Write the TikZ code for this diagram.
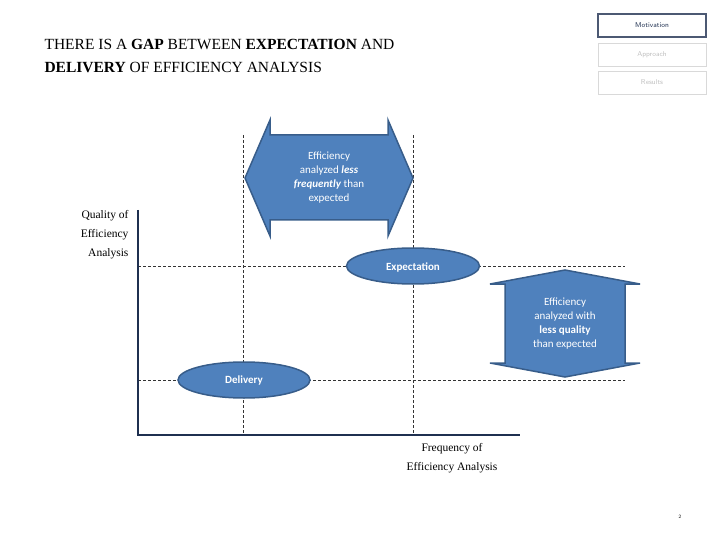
\documentclass[tikz,border=0pt]{standalone}
\usepackage{fontspec}
\setmainfont{Liberation Serif}
\newfontfamily\carl{Carlito}
\usetikzlibrary{shapes.geometric}
\definecolor{bfill}{HTML}{4F81BD}
\definecolor{bline}{HTML}{385D8A}
\definecolor{navy}{HTML}{1F3050}
\begin{document}
\begin{tikzpicture}[x=1pt,y=-1pt,
  guide/.style={densely dashed,line width=0.6pt,black!80},
  shp/.style={fill=bfill,draw=bline,line width=1.5pt},
  wt/.style={text=white,font=\carl\fontsize{11}{14}\selectfont,align=center},
  tab/.style={draw,minimum width=108pt,minimum height=23pt,font=\sffamily\fontsize{7}{8}\selectfont,inner sep=0pt}]
\useasboundingbox (0,0) rectangle (720,540);
% dashed guides
\draw[guide] (243,135) -- (243,435);
\draw[guide] (413,135) -- (413,435);
\draw[guide] (138,266) -- (625,266);
\draw[guide] (138,380) -- (625,380);
% axes
\draw[navy,line width=2.5pt] (138,210) -- (138,435) -- (520,435);
% left-right arrow
\draw[shp] (245,178) -- (270,120) -- (270,135) -- (388,135) -- (388,120) -- (413,178) -- (388,236) -- (388,220) -- (270,220) -- (270,236) -- cycle;
\node[wt] (lr) at (329,178) {Efficiency\\analyzed \textbf{\textit{less}}\\\textbf{\textit{frequently}} than\\expected};
% up-down arrow
\draw[shp] (565,270) -- (640,284) -- (625,284) -- (625,363) -- (640,363) -- (565,377) -- (490,363) -- (505,363) -- (505,284) -- (490,284) -- cycle;
\node[wt] (ud) at (565,324) {Efficiency\\analyzed with\\\textbf{less quality}\\than expected};
% ellipses
\node[shp,ellipse,minimum width=133pt,minimum height=36pt,inner sep=0pt] (exp) at (413,266) {};
\node[wt,font=\carl\bfseries\fontsize{11}{14}\selectfont] (expt) at (413,267) {Expectation};
\node[shp,ellipse,minimum width=132pt,minimum height=36pt,inner sep=0pt] (del) at (244,380) {};
\node[wt,font=\carl\bfseries\fontsize{11}{14}\selectfont] (delt) at (244,381) {Delivery};
% axis labels
\node[align=right,anchor=east,font=\fontsize{11.5}{19}\selectfont] (ql) at (132,235) {Quality of\\Efficiency\\Analysis};
\node[align=center,font=\fontsize{11.5}{19}\selectfont] (fl) at (452,458) {Frequency of\\Efficiency Analysis};
% title
\node[anchor=west,align=left,font=\fontsize{15.5}{23}\selectfont] (title) at (41,56) {THERE IS A \textbf{GAP} BETWEEN \textbf{EXPECTATION} AND\\\textbf{DELIVERY} OF EFFICIENCY ANALYSIS};
% tabs
\node[tab,draw=navy!80,line width=1.2pt,text=navy] (mot) at (652,25.5) {Motivation};
\node[tab,draw=black!15,text=black!25] (app) at (652,54.5) {Approach};
\node[tab,draw=black!15,text=black!25] (res) at (652,82.5) {Results};
\node[font=\sffamily\fontsize{5}{6}\selectfont] (pg) at (680,517) {2};
\end{tikzpicture}
\end{document}
